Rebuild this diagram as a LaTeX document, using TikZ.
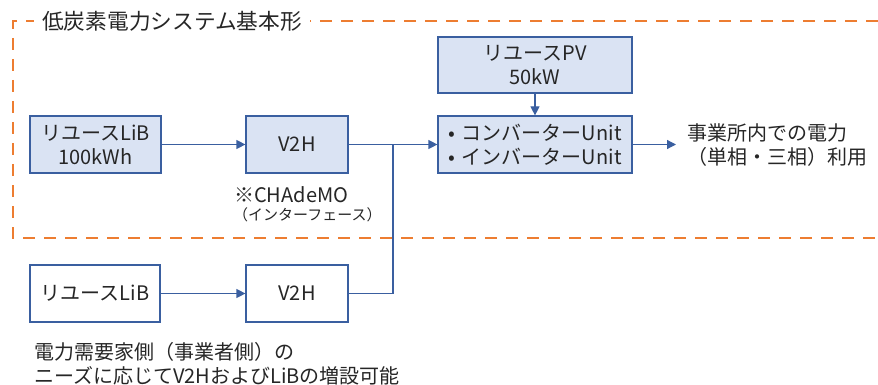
\documentclass[tikz,border=0pt]{standalone}
\usepackage{fontspec}
\setmainfont{Noto Sans CJK JP}
\usetikzlibrary{arrows.meta}
\definecolor{boxfill}{HTML}{DAE3F3}
\definecolor{boxline}{HTML}{3A5FA0}
\definecolor{frameor}{HTML}{ED7D31}
\definecolor{txt}{HTML}{262626}
\tikzset{
  blk/.style={draw=boxline, line width=1.2pt, fill=boxfill, inner sep=0pt, align=center,
    text=txt, font=\fontsize{20}{24}\selectfont},
  wblk/.style={blk, fill=white},
  conn/.style={draw=boxline, line width=1.2pt},
  arr/.style={conn, -{Triangle[length=9pt,width=9pt]}},
  lbl/.style={text=txt, inner sep=0pt, font=\fontsize{20}{23.5}\selectfont, align=left},
}
\begin{document}
\begin{tikzpicture}[x=1pt,y=-1pt]
\useasboundingbox (0,0) rectangle (878,385);
% dashed frame
\draw[frameor, line width=2.8pt, dash pattern=on 12pt off 9pt] (878,21) -- (13,21) -- (13,238) -- (878,238);
\node[fill=white, inner xsep=8pt, inner ysep=2pt, text=txt, font=\fontsize{21.7}{24}\selectfont, anchor=west] (title) at (34,21) {低炭素電力システム基本形};
% boxes
\node[blk, minimum width=131pt, minimum height=57pt] (lib1) at (95.5,144.5) {リユースLiB\\100kWh};
\node[blk, minimum width=102pt, minimum height=57pt] (v2h1) at (297,144.5) {V2H};
\node[blk, minimum width=194pt, minimum height=56pt] (pv) at (535,65) {リユースPV\\50kW};
\node[blk, minimum width=194pt, minimum height=57pt, align=left] (conv) at (535,144.5) {•\,\,コンバーターUnit\\•\,\,インバーターUnit};
\node[wblk, minimum width=130pt, minimum height=57pt] (lib2) at (95,293.5) {リユースLiB};
\node[wblk, minimum width=102pt, minimum height=57pt] (v2h2) at (297,293.5) {V2H};
\coordinate (j) at (393,144.5);
\coordinate (outend) at (676,144.5);
% labels
\node[lbl, anchor=west] (out) at (687,145) {事業所内での電力\\（単相・三相）利用};
\node[lbl, anchor=west] (chademo) at (234,195) {※CHAdeMO};
\node[lbl, anchor=west, font=\fontsize{15}{17}\selectfont] (intf) at (233,215) {（インターフェース）};
\node[lbl, anchor=west] (note) at (34,363.5) {電力需要家側（事業者側）の\\ニーズに応じてV2HおよびLiBの増設可能};
% connectors
\draw[arr] (lib1.east) -- (v2h1.west);
\draw[arr] (lib2.east) -- (v2h2.west);
\draw[conn] (v2h1.east) -- (j);
\draw[conn] (v2h2.east) -| (j);
\draw[arr] (j) -- (conv.west);
\draw[arr] (pv.south) -- (conv.north);
\draw[arr] (conv.east) -- (outend);
\end{tikzpicture}
\end{document}
